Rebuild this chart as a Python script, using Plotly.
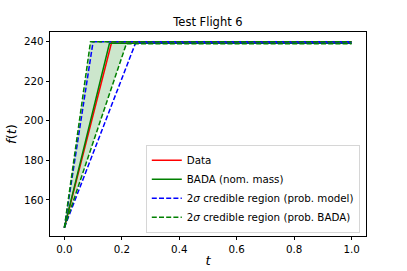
import plotly.graph_objects as go

# Data
t_data = [0.0, 0.165, 1.0]
f_data = [146.0, 240.0, 240.0]

t_bada = [0.0, 0.157, 1.0]
f_bada = [146.0, 239.2, 239.2]

t_model_hi = [0.0, 0.100, 1.0]
f_model_hi = [146.0, 240.0, 240.0]
t_model_lo = [0.0, 0.248, 1.0]
f_model_lo = [146.0, 239.4, 239.4]

t_bada_hi = [0.0, 0.091, 1.0]
f_bada_hi = [146.0, 240.0, 240.0]
t_bada_lo = [0.0, 0.216, 1.0]
f_bada_lo = [146.0, 239.0, 239.0]

x_ticks = [0.0, 0.2, 0.4, 0.6, 0.8, 1.0]
y_ticks = [160, 180, 200, 220, 240]

GREEN = "#008000"
LW = 1.5
DASH = "5px,2.2px"
fig = go.Figure()

# shaded BADA credible band
fig.add_trace(go.Scatter(
    x=t_bada_hi + t_bada_lo[::-1], y=f_bada_hi + f_bada_lo[::-1],
    fill="toself", fillcolor="rgba(0,128,0,0.2)", line=dict(width=0),
    mode="lines", showlegend=False, hoverinfo="skip"))

fig.add_trace(go.Scatter(x=t_data, y=f_data, mode="lines", name="Data",
                         line=dict(color="red", width=LW)))
fig.add_trace(go.Scatter(x=t_bada, y=f_bada, mode="lines", name="BADA (nom. mass)",
                         line=dict(color=GREEN, width=LW)))
fig.add_trace(go.Scatter(x=t_model_hi, y=f_model_hi, mode="lines",
                         name="2<i>σ</i> credible region (prob. model)", legendgroup="m",
                         line=dict(color="blue", width=LW, dash=DASH)))
fig.add_trace(go.Scatter(x=t_model_lo, y=f_model_lo, mode="lines", showlegend=False,
                         legendgroup="m",
                         line=dict(color="blue", width=LW, dash=DASH)))
fig.add_trace(go.Scatter(x=t_bada_hi, y=f_bada_hi, mode="lines",
                         name="2<i>σ</i> credible region (prob. BADA)", legendgroup="b",
                         line=dict(color=GREEN, width=LW, dash=DASH)))
fig.add_trace(go.Scatter(x=t_bada_lo, y=f_bada_lo, mode="lines", showlegend=False,
                         legendgroup="b",
                         line=dict(color=GREEN, width=LW, dash=DASH)))

axis_common = dict(showgrid=False, zeroline=False, showline=True, mirror=True,
                   linecolor="black", linewidth=0.8, ticks="outside", ticklen=3.5,
                   tickwidth=0.8, tickcolor="black", automargin=False,
                   tickfont=dict(size=10.3, color="black"))

fig.update_layout(
    width=407, height=271,
    margin=dict(l=50, r=41, t=32, b=35),
    paper_bgcolor="white", plot_bgcolor="white",
    font=dict(family="DejaVu Sans", color="black"),
    title=dict(text="Test Flight 6", x=(50 + 316 / 2) / 407, xanchor="center",
               y=1 - 21.5 / 271, yanchor="middle", font=dict(size=11.5)),
    xaxis=dict(range=[-0.05, 1.05], tickvals=x_ticks,
               ticktext=[f"{v:.1f}" for v in x_ticks],
               title=dict(text="<i>t</i>", font=dict(size=13), standoff=2),
               **axis_common),
    yaxis=dict(range=[141.8, 244.9], tickvals=y_ticks,
               title=dict(text="<i>f</i>(<i>t</i>)", font=dict(size=13), standoff=4),
               **axis_common),
    legend=dict(x=0.981, xanchor="right", y=0.015, yanchor="bottom",
                bgcolor="rgba(255,255,255,0.8)", bordercolor="#cccccc", borderwidth=0.8,
                font=dict(size=10.3), tracegroupgap=0, itemwidth=30,
                traceorder="normal"),
)

fig.write_html("out.html", config={"displayModeBar": False},
               post_script="document.body.style.margin='0';")
